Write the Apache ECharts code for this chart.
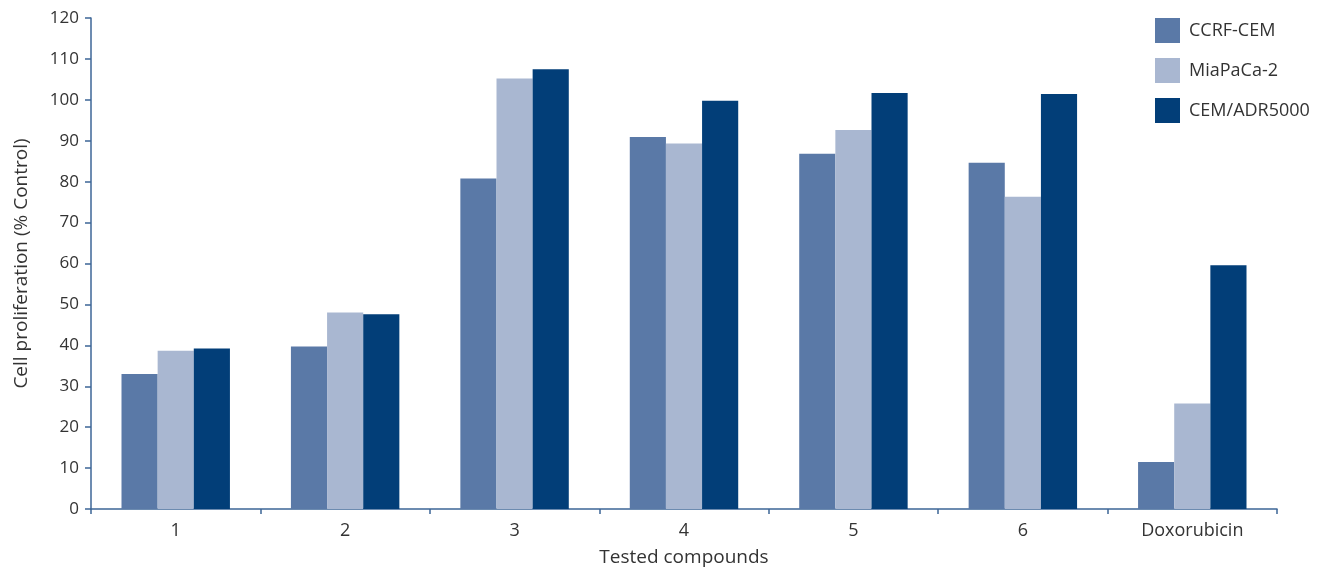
<!DOCTYPE html>
<html>
<head>
<meta charset="utf-8">
<script src="https://cdn.jsdelivr.net/npm/echarts@6/dist/echarts.min.js"></script>
<style>
html,body{margin:0;padding:0;background:#fff;}
#chart{width:1326px;height:568px;}
</style>
</head>
<body>
<div id="chart"></div>
<script>
const categories = ['1', '2', '3', '4', '5', '6', 'Doxorubicin'];
const ccrfCem = [33.0, 39.7, 80.8, 90.9, 86.8, 84.6, 11.5];
const miaPaCa2 = [38.7, 48.0, 105.2, 89.3, 92.6, 76.3, 25.8];
const cemAdr5000 = [39.2, 47.6, 107.5, 99.8, 101.7, 101.4, 59.6];
const yTicks = [0, 10, 20, 30, 40, 50, 60, 70, 80, 90, 100, 110, 120];

const colors = ['#5a79a7', '#a9b7d1', '#023e78'];
const axisColor = '#3d6697';
const textColor = '#333333';
const fontFamily = '"Open Sans", "Noto Sans", sans-serif';

const chart = echarts.init(document.getElementById('chart'), null, {renderer: 'canvas'});
chart.setOption({
  animation: false,
  backgroundColor: '#ffffff',
  textStyle: {fontFamily: fontFamily},
  legend: {
    orient: 'vertical',
    left: 1155,
    top: 18,
    padding: 0,
    itemWidth: 25,
    itemHeight: 25,
    itemGap: 15,
    icon: 'rect',
    textStyle: {fontSize: 18, color: textColor, fontFamily: fontFamily, padding: [0, 0, 0, 4]},
    data: ['CCRF-CEM', 'MiaPaCa-2', 'CEM/ADR5000']
  },
  grid: {left: 91, right: 49, top: 18, bottom: 59, containLabel: false, outerBoundsMode: 'none'},
  xAxis: {
    type: 'category',
    data: categories,
    name: 'Tested compounds',
    nameLocation: 'middle',
    nameGap: 39,
    nameTextStyle: {fontSize: 19, color: textColor, fontFamily: fontFamily},
    axisLine: {lineStyle: {color: axisColor, width: 1.5}},
    axisTick: {show: true, length: 5, alignWithLabel: false, lineStyle: {color: axisColor, width: 1.5}},
    axisLabel: {fontSize: 18, color: textColor, margin: 13, fontFamily: fontFamily}
  },
  yAxis: {
    type: 'value',
    min: yTicks[0],
    max: yTicks[yTicks.length - 1],
    interval: 10,
    name: 'Cell proliferation (% Control)',
    nameLocation: 'middle',
    nameRotate: 90,
    nameGap: 60,
    nameTextStyle: {fontSize: 19, color: textColor, fontFamily: fontFamily},
    axisLine: {show: true, lineStyle: {color: axisColor, width: 1.5}},
    axisTick: {show: true, length: 6, lineStyle: {color: axisColor, width: 1.5}},
    axisLabel: {fontSize: 17, color: textColor, margin: 12, fontFamily: fontFamily},
    splitLine: {show: false}
  },
  series: [
    {name: 'CCRF-CEM', type: 'bar', data: ccrfCem, itemStyle: {color: colors[0]}, barGap: '0%', barCategoryGap: '36%'},
    {name: 'MiaPaCa-2', type: 'bar', data: miaPaCa2, itemStyle: {color: colors[1]}, barGap: '0%', barCategoryGap: '36%'},
    {name: 'CEM/ADR5000', type: 'bar', data: cemAdr5000, itemStyle: {color: colors[2]}, barGap: '0%', barCategoryGap: '36%'}
  ]
});
</script>
</body>
</html>
